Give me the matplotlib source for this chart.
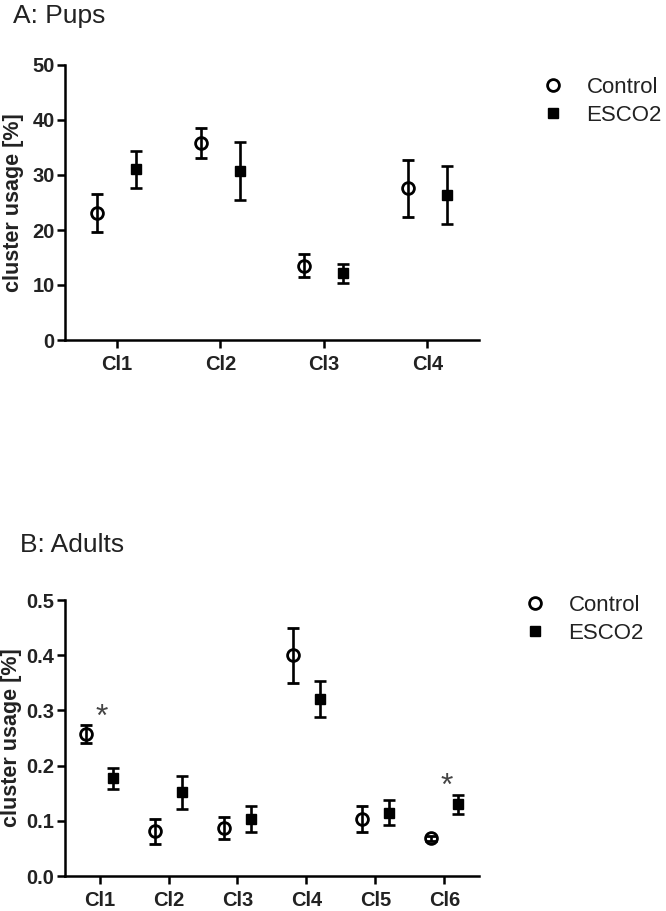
import matplotlib
matplotlib.use("Agg")
import matplotlib.pyplot as plt
from matplotlib.lines import Line2D

plt.rcParams['font.family'] = ['Liberation Sans', 'DejaVu Sans']

# Panel A: pups
pup_clusters = ['Cl1', 'Cl2', 'Cl3', 'Cl4']
pup_control = [23.1, 35.8, 13.5, 27.6]
pup_control_err = [3.4, 2.7, 2.1, 5.2]
pup_esco2 = [31.0, 30.7, 12.1, 26.3]
pup_esco2_err = [3.4, 5.3, 1.7, 5.3]
pup_yticks = [0, 10, 20, 30, 40, 50]

# Panel B: adults
adult_clusters = ['Cl1', 'Cl2', 'Cl3', 'Cl4', 'Cl5', 'Cl6']
adult_control = [0.257, 0.081, 0.087, 0.400, 0.103, 0.068]
adult_control_err = [0.016, 0.023, 0.020, 0.050, 0.024, 0.004]
adult_esco2 = [0.177, 0.152, 0.103, 0.321, 0.115, 0.130]
adult_esco2_err = [0.019, 0.030, 0.024, 0.033, 0.022, 0.017]
adult_yticks = [0.0, 0.1, 0.2, 0.3, 0.4, 0.5]
adult_signif = [0, 5]   # clusters marked with *

TEXT = '#222222'
OFFSET = 0.19


def draw_panel(ax, labels, ctrl, ctrl_err, esco, esco_err, yticks, fmt):
    xs = list(range(len(labels)))
    ax.errorbar([x - OFFSET for x in xs], ctrl, yerr=ctrl_err, fmt='o',
                ms=8.5, mfc='none', mec='black', mew=2.0, ecolor='black',
                elinewidth=1.9, capsize=4, capthick=1.9)
    ax.errorbar([x + OFFSET for x in xs], esco, yerr=esco_err, fmt='s',
                ms=7.5, mfc='black', mec='black', ecolor='black',
                elinewidth=1.9, capsize=4, capthick=1.9)
    ax.set_xlim(-0.5, len(labels) - 0.5)
    ax.set_ylim(yticks[0], yticks[-1])
    ax.set_xticks(xs)
    ax.set_xticklabels(labels)
    ax.set_yticks(yticks)
    ax.set_yticklabels([fmt.format(t) for t in yticks])
    for s in ['top', 'right']:
        ax.spines[s].set_visible(False)
    for s in ['left', 'bottom']:
        ax.spines[s].set_linewidth(1.8)
    ax.tick_params(axis='both', direction='out', length=5.5, width=1.8,
                   labelsize=14.5, colors='black', labelcolor=TEXT)
    ax.tick_params(axis='x', pad=5)
    ax.tick_params(axis='y', pad=2)
    for lab in ax.get_xticklabels() + ax.get_yticklabels():
        lab.set_fontweight('bold')
    ax.set_ylabel('cluster usage [%]', fontsize=15.5, fontweight='bold',
                  color=TEXT)


def add_legend(fig, x, y):
    handles = [
        Line2D([], [], ls='none', marker='o', ms=8.5, mfc='none',
               mec='black', mew=2.0, label='Control'),
        Line2D([], [], ls='none', marker='s', ms=7.5, mfc='black',
               mec='black', label='ESCO2'),
    ]
    leg = fig.legend(handles=handles, loc='upper left',
                     bbox_to_anchor=(x, y), frameon=False, fontsize=16,
                     handlelength=1.0, handletextpad=1.0, labelspacing=0.3,
                     borderpad=0, borderaxespad=0)
    for t in leg.get_texts():
        t.set_color(TEXT)


fig = plt.figure(figsize=(6.66, 9.11), dpi=100)
W, H = 666, 911

axA = fig.add_axes([65 / W, 1 - 340 / H, 414 / W, 275 / H])
draw_panel(axA, pup_clusters, pup_control, pup_control_err,
           pup_esco2, pup_esco2_err, pup_yticks, '{:.0f}')
axA.yaxis.set_label_coords(-0.098, 0.5)

axB = fig.add_axes([65 / W, 1 - 876 / H, 414 / W, 276 / H])
draw_panel(axB, adult_clusters, adult_control, adult_control_err,
           adult_esco2, adult_esco2_err, adult_yticks, '{:.1f}')
axB.yaxis.set_label_coords(-0.104, 0.5)

for i in adult_signif:
    top = max(adult_control[i] + adult_control_err[i],
              adult_esco2[i] + adult_esco2_err[i])
    axB.text(i + 0.03, top + 0.014, '*', ha='center', va='center',
             fontsize=23, color='#444444')

fig.text(13 / W, 1 - 23 / H, 'A: Pups', fontsize=19, color=TEXT,
         va='baseline', ha='left')
fig.text(20 / W, 1 - 552 / H, 'B: Adults', fontsize=19, color=TEXT,
         va='baseline', ha='left')

add_legend(fig, 542 / W, 1 - 77 / H)
add_legend(fig, 524 / W, 1 - 595 / H)

fig.savefig('out.png', dpi=100)
